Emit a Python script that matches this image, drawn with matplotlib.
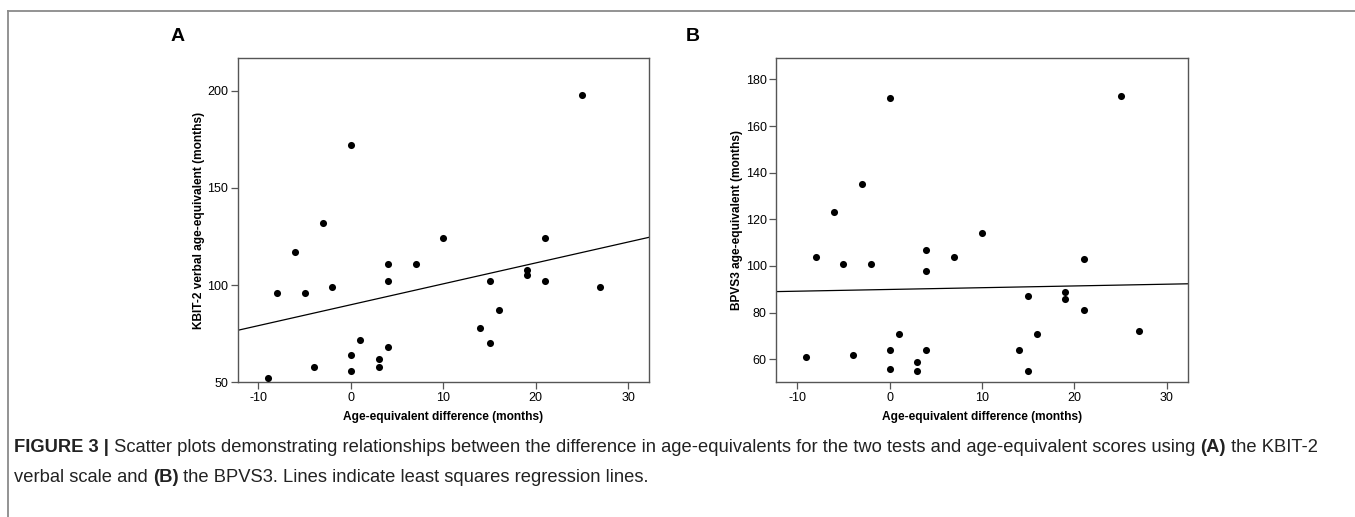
import numpy as np
import matplotlib
matplotlib.use('Agg')
import matplotlib.pyplot as plt
from matplotlib.lines import Line2D

plt.rcParams['font.family'] = ['Liberation Sans', 'DejaVu Sans']
plt.rcParams['axes.unicode_minus'] = False

# age-equivalent difference (months), same children in both panels
age_diff = [-9, -8, -6, -5, -4, -3, -2, 0, 0, 0, 1, 3, 3, 4, 4, 4, 7, 10,
            14, 15, 15, 16, 19, 19, 21, 21, 25, 27]

# panel A: KBIT-2 verbal age-equivalent
kbit_age = [52, 96, 117, 96, 58, 132, 99, 172, 64, 56, 72, 62, 58, 111, 102, 68, 111, 124,
            78, 102, 70, 87, 108, 105, 124, 102, 198, 99]

# panel B: BPVS3 age-equivalent
bpvs_age = [61, 104, 123, 101, 62, 135, 101, 172, 64, 56, 71, 59, 55, 107, 98, 64, 104, 114,
            64, 87, 55, 71, 89, 86, 103, 81, 173, 72]

x_ticks = [-10, 0, 10, 20, 30]
a_yticks = [50, 100, 150, 200]
b_yticks = [60, 80, 100, 120, 140, 160, 180]

xlabel = 'Age-equivalent difference (months)'
a_ylabel = 'KBIT-2 verbal age-equivalent (months)'
b_ylabel = 'BPVS3 age-equivalent (months)'

W, H = 1355, 517
fig = plt.figure(figsize=(W / 100, H / 100), dpi=100)

spine_col = '#555555'


def panel(left, y, yticks, ylim, ylabel, letter, letter_x):
    ax = fig.add_axes([left / W, 1 - 382.3 / H, 411.3 / W, 324.6 / H])
    x = np.array(age_diff, dtype=float)
    yv = np.array(y, dtype=float)
    ax.scatter(x, yv, s=26, color='black', linewidths=0, zorder=3)
    xlim = (-12.25, 32.25)
    # least squares regression line across the whole x range
    slope, icpt = np.polyfit(x, yv, 1)
    xs = np.array(xlim)
    ax.plot(xs, icpt + slope * xs, color='black', lw=0.9)
    ax.set_xlim(*xlim)
    ax.set_ylim(*ylim)
    ax.set_xticks(x_ticks)
    ax.set_yticks(yticks)
    for s in ax.spines.values():
        s.set_color(spine_col)
        s.set_linewidth(1.0)
    ax.tick_params(direction='out', length=5, width=0.9, color=spine_col,
                   labelsize=9, pad=2, top=False, right=False)
    ax.set_xlabel(xlabel, fontsize=8.6, fontweight='bold', labelpad=5)
    ax.set_ylabel(ylabel, fontsize=8.6, fontweight='bold', labelpad=1.5)
    fig.text(letter_x / W, 1 - 36.5 / H, letter, fontsize=14, fontweight='bold',
             ha='center', va='center')
    return ax


panel(237.7, kbit_age, a_yticks, (50, 217), a_ylabel, 'A', 177.5)
panel(776.3, bpvs_age, b_yticks, (50.1, 189.3), b_ylabel, 'B', 692.5)

# outer frame (cut at right and bottom)
fc = '#8a8a8a'
fig.add_artist(Line2D([8 / W, 1], [1 - 11 / H, 1 - 11 / H], color=fc, lw=1.3, transform=fig.transFigure))
fig.add_artist(Line2D([8 / W, 8 / W], [0, 1 - 11 / H], color=fc, lw=1.3, transform=fig.transFigure))

# caption with bold pieces
line1 = [('FIGURE 3 |', 'bold'),
         (' Scatter plots demonstrating relationships between the difference in age-equivalents '
          'for the two tests and age-equivalent scores using ', 'normal'),
         ('(A)', 'bold'), (' the KBIT-2', 'normal')]
line2 = [('verbal scale and ', 'normal'), ('(B)', 'bold'),
         (' the BPVS3. Lines indicate least squares regression lines.', 'normal')]

fig.canvas.draw()
renderer = fig.canvas.get_renderer()
cap_size = 13.25
for pieces, ypix in [(line1, 448), (line2, 477)]:
    xpix = 14
    for txt, wt in pieces:
        t = fig.text(xpix / W, 1 - ypix / H, txt, fontsize=cap_size, fontweight=wt,
                     color='#222222', ha='left', va='center')
        bb = t.get_window_extent(renderer=renderer)
        xpix += bb.width

fig.savefig('out.png', dpi=100)
